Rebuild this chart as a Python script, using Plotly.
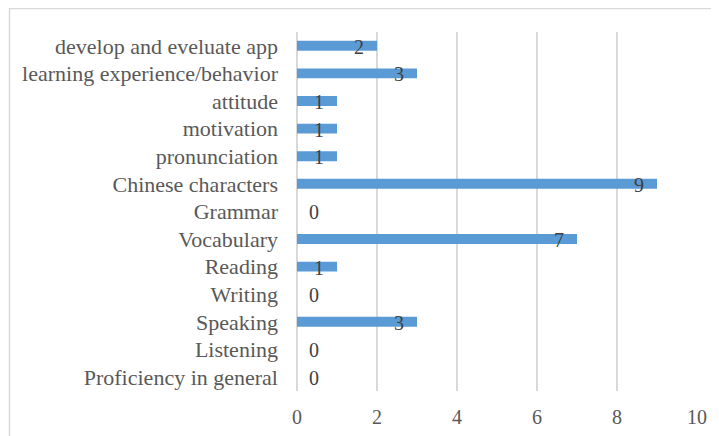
import plotly.graph_objects as go

categories = ["develop and eveluate app", "learning experience/behavior", "attitude",
              "motivation", "pronunciation", "Chinese characters", "Grammar",
              "Vocabulary", "Reading", "Writing", "Speaking", "Listening",
              "Proficiency in general"]
values = [2, 3, 1, 1, 1, 9, 0, 7, 1, 0, 3, 0, 0]
x_ticks = [0, 2, 4, 6, 8, 10]

FONT = "Liberation Serif, Times New Roman, serif"
OFF = 8  # page body margin offset

W, H = 719 - OFF, 436 - OFF
L, R, T, B = 297 - OFF, 719 - 697, 32 - OFF, 436 - 391
PW, PH = W - L - R, H - T - B

fig = go.Figure()
fig.add_trace(go.Bar(
    x=values, y=categories, orientation="h",
    marker=dict(color="#5B9BD5", line=dict(width=0)),
    width=0.36, hoverinfo="x+y",
))

for c, v in zip(categories, values):
    fig.add_annotation(x=v, y=c, text=str(v), showarrow=False,
                       xshift=(-18 if v > 0 else 17), yshift=-1,
                       font=dict(family=FONT, size=20, color="#404040"))

fig.update_layout(
    width=W, height=H,
    margin=dict(l=L, r=R, t=T, b=B),
    paper_bgcolor="white", plot_bgcolor="white",
    showlegend=False,
    font=dict(family=FONT, size=20, color="#595959"),
    xaxis=dict(range=[0, 10], tickvals=x_ticks, showgrid=True,
               gridcolor="#D9D9D9", gridwidth=1.5, zeroline=True,
               zerolinecolor="#D9D9D9", zerolinewidth=1.5,
               showline=False, ticks="", ticklabelstandoff=12,
               automargin=False,
               tickfont=dict(family=FONT, size=20, color="#595959")),
    yaxis=dict(categoryorder="array", categoryarray=categories[::-1],
               showgrid=False, showline=False, ticks="",
               ticklabelstandoff=18, automargin=False,
               tickfont=dict(family=FONT, size=22, color="#595959")),
    shapes=[dict(type="rect", xref="paper", yref="paper",
                 x0=-(L - 1.5) / PW, x1=(712 - 297) / PW,
                 y0=-(B + 20) / PH, y1=1 + (T - 0.5) / PH,
                 line=dict(color="#D9D9D9", width=1.5), fillcolor="rgba(0,0,0,0)",
                 layer="below")],
)

fig.write_html("out.html")
